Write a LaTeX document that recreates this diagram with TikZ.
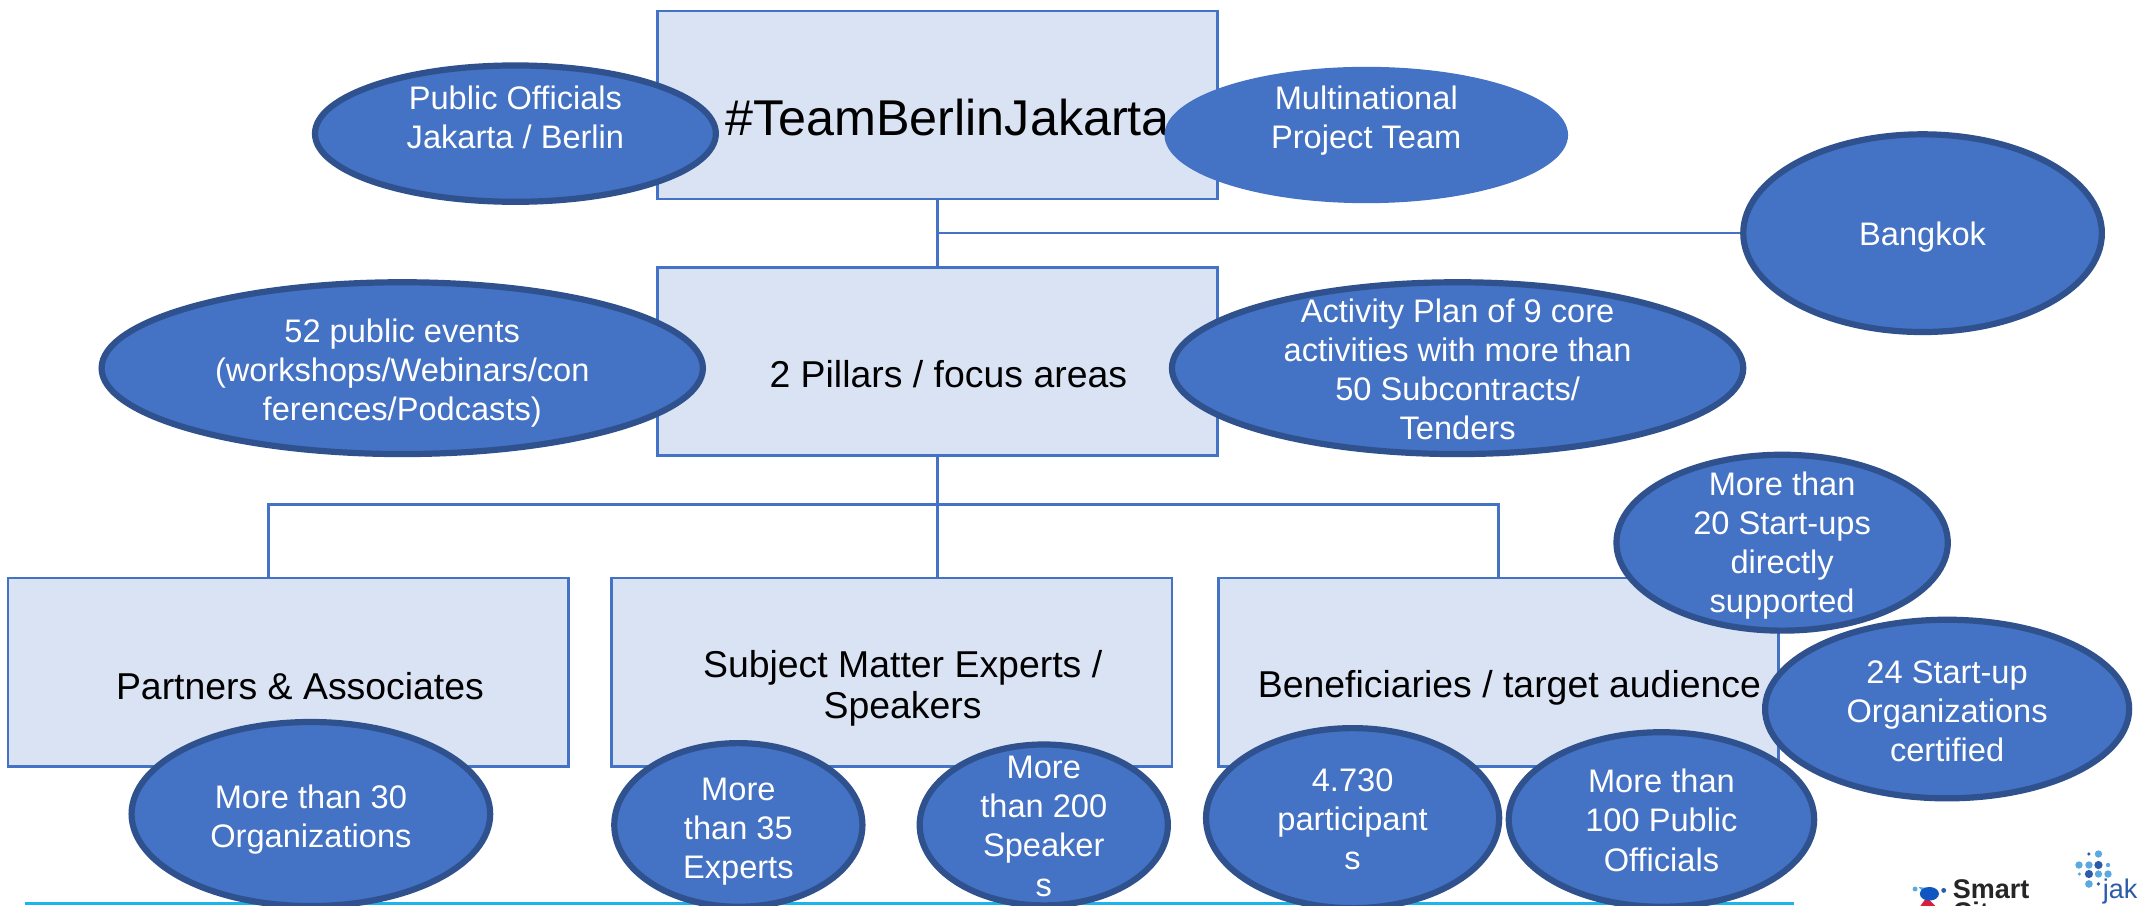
\documentclass[tikz,border=0pt]{standalone}
\usepackage{fontspec}
\setmainfont{Liberation Sans}
\usetikzlibrary{shapes.geometric}
\definecolor{boxfill}{HTML}{DAE3F3}
\definecolor{accent}{HTML}{4472C4}
\definecolor{rimdark}{HTML}{2F528F}
\definecolor{skyline}{HTML}{1DB4EE}
\definecolor{dotlight}{HTML}{5AA9E0}
\definecolor{dotdark}{HTML}{2A5CA8}
\definecolor{markblue}{HTML}{0F57C0}
\definecolor{markred}{HTML}{D81E3C}
\def\u{1.3635pt}
\tikzset{
  x=1.3635pt,y=-1.3635pt,
  boxnode/.style={rectangle,draw=accent,fill=boxfill,line width=2.6pt,minimum width=411*\u,minimum height=138*\u,inner sep=0pt},
  boxtext/.style={inner sep=0pt,align=center,text=black,font=\fontsize{37.4}{41}\selectfont},
  bub/.style={ellipse,fill=accent,draw=rimdark,line width=6.2pt,inner sep=0pt},
  bubplain/.style={ellipse,fill=accent,draw=none,inner sep=0pt},
  bubtext/.style={align=center,text=white,inner sep=0pt,font=\fontsize{32.6}{39.2}\selectfont},
  link/.style={draw=accent,line width=2.4pt},
}
\newcommand{\bubble}[8][bub]{%
  \node[#1,minimum width=#5*\u,minimum height=#6*\u] (#2) at (#3,#4) {};
  \node[bubtext] (#2-t) at (#3,#7) {#8};
}
\begin{document}
\begin{tikzpicture}
\useasboundingbox (0,0) rectangle (1568,663.75);
\clip (0,0) rectangle (1568,663.75);
\fill[white] (0,0) rectangle (1568,663.75);
% boxes
\node[boxnode] (top) at (687.5,77) {};
\node[boxnode] (pillars) at (687.5,265) {};
\node[boxnode] (partners) at (211.5,493) {};
\node[boxnode] (experts) at (654,493) {};
\node[boxnode] (benef) at (1099,493) {};
\node[inner sep=0pt,text=black,font=\fontsize{50.3}{55}\selectfont] (title) at (695,86) {\#TeamBerlinJakarta};
\node[boxtext] (pillars-t) at (695.5,274.5) {2 Pillars / focus areas};
\node[boxtext] (partners-t) at (220,503) {Partners \& Associates};
\node[boxtext] (experts-t) at (662,505) {Subject Matter Experts /\\Speakers};
\node[boxtext] (benef-t) at (1107,504.5) {Beneficiaries / target audience};
% connectors
\coordinate (busY) at (0,370);
\coordinate (branch) at (top.south |- 0,171);
\coordinate (partnerDrop) at (197,424);
\coordinate (expertDrop) at (pillars.south |- experts.north);
\draw[link] (top.south) -- (pillars.north);
\draw[link] (pillars.south) -- (expertDrop);
\draw[link] (partnerDrop) -- (partnerDrop |- busY) -- (benef.north |- busY) -- (benef.north);
% footer rule
\coordinate (ruleL) at (18,662.6);
\coordinate (ruleR) at (1316,662.6);
\draw[skyline,line width=3pt] (ruleL) -- (ruleR);
% bubbles
\bubble{officials}{378}{98}{294}{100}{86}{Public Officials\\Jakarta / Berlin}
\bubble[bubplain]{team}{1002}{99}{296}{100}{88.5}{Multinational\\Project Team}
\bubble{bangkok}{1410}{171}{263}{145}{174}{Bangkok}
\bubble{events}{295}{270}{441}{126}{273.5}{52 public events\\(workshops/Webinars/con\\ferences/Podcasts)}
\bubble{plan}{1069}{270}{419}{126}{271}{Activity Plan of 9 core\\activities with more than\\50 Subcontracts/\\Tenders}
\bubble{startups}{1307}{398}{243}{129}{400}{More than\\20 Start-ups\\directly\\supported}
\bubble{certified}{1428}{520}{267}{131}{521.5}{24 Start-up\\Organizations\\certified}
\bubble{orgs}{228}{597}{263}{135}{601}{More than 30\\Organizations}
\bubble{exp35}{541.5}{605}{182}{120}{610}{More\\than 35\\Experts}
\bubble{sp200}{765.5}{605}{182}{118}{606}{More\\than 200\\Speaker\\s}
\bubble{parts}{992}{600}{215}{132}{601}{4.730\\participant\\s}
\bubble{pubof}{1218.5}{601}{224}{128}{601.5}{More than\\100 Public\\Officials}
\draw[link] (branch) -- (bangkok.west);
% logos
\node[inner sep=0pt,anchor=base west,text=black!85,font=\fontsize{27}{27}\bfseries\selectfont] (smart) at (1432,659) {Smart};
\node[inner sep=0pt,anchor=base west,text=black!85,font=\fontsize{27}{27}\bfseries\selectfont] (city) at (1432,676) {City};
\fill[dotlight] (1407,650.5) -- (1420,652) -- (1412,656) -- cycle;
\fill[markred] (1408,665) -- (1413,658) -- (1420,665) -- cycle;
\fill[markblue] (1415,655.5) ellipse (7 and 5);
\fill[dotlight] (1404.5,652) circle (1.8);
\fill[dotdark] (1425.5,653) circle (1.8);
\node[inner sep=0pt,anchor=base west,text=dotdark,font=\fontsize{27}{27}\selectfont] (jak) at (1542,659) {jakarta};
\foreach \px/\py/\r/\c in {1532/626.3/1.3/dotdark,1539/626.3/2.7/dotlight,
  1524.7/634.4/2.7/dotlight,1532/634.4/2.7/dotlight,1539/634.4/3/dotdark,1546/634.4/1.6/dotlight,
  1525/641/1.3/dotlight,1532/641/3/dotdark,1539/641/2.7/dotlight,1546/641/2.7/dotlight,
  1532/648.3/2.8/dotlight,1539/648.3/1.3/dotdark}
  \fill[\c] (\px,\py) circle (\r);
\end{tikzpicture}
\end{document}
